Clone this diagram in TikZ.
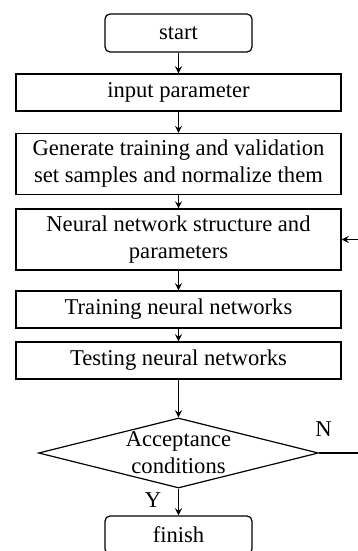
\documentclass[tikz,border=0pt]{standalone}
\usepackage{fontspec}
\setmainfont{Liberation Serif}
\usepackage{tikz}
\usetikzlibrary{shapes.geometric, arrows}
\tikzstyle{terminal} = [rectangle, rounded corners=2.5pt, minimum width=73.5pt, minimum height=19pt, text centered, draw=black]
\tikzstyle{process}  = [rectangle, minimum width=162.5pt, minimum height=18.5pt, align=center, draw=black]
\tikzstyle{decision} = [diamond, aspect=4, inner sep=-1.5pt, minimum width=140pt, minimum height=35pt, align=center, draw=black]
\tikzstyle{arrow}    = [->,>=stealth]

\begin{document}
\begin{tikzpicture}[node distance=35pt, line width=0.6pt, font=\fontsize{11.3}{13.5}\selectfont]
    \clip (-89.25pt,16.5pt) rectangle (89.75pt,-259pt);
    \coordinate (rim) at (89.75pt,0);

    \node (start)  [terminal]                                                  {start};
    \node (in)     [process,  below of=start, yshift=5.25pt]                   {input parameter};
    \node (gen)    [process,  below of=in, yshift=-0.75pt, minimum height=29pt] {Generate training and validation\\set samples and normalize them};
    \node (nn)     [process,  below of=gen, yshift=-2.75pt, minimum height=28.5pt] {Neural network structure and\\parameters};
    \node (train)  [process,  below of=nn]                                     {Training neural networks};
    \node (test)   [process,  below of=train, yshift=9.5pt]                    {Testing neural networks};
    \node (dec)    [decision, below of=test, yshift=-11.25pt]                  {Acceptance\\conditions};
    \node (finish) [terminal, below of=dec, yshift=-6pt]                       {finish};

    \coordinate (backout) at (dec.east -| rim);
    \coordinate (backin)  at (nn.east -| rim);

    \draw [arrow] (start) -- (in);
    \draw [arrow] (in)    -- (gen);
    \draw [arrow] (gen)   -- (nn);
    \draw [arrow] (nn)    -- (train);
    \draw [arrow] (train) -- (test);
    \draw [arrow] (test)  -- (dec);
    \draw [arrow] (dec)   -- node (ylbl) [left, pos=0.43, xshift=-5pt] {Y} (finish);
    \draw (dec.east) -- (backout);
    \node (nlbl) [above, xshift=2.25pt, yshift=4.4pt] at (dec.east) {N};
    \draw [arrow] (backin) -- (nn.east);
  \end{tikzpicture}
\end{document}
